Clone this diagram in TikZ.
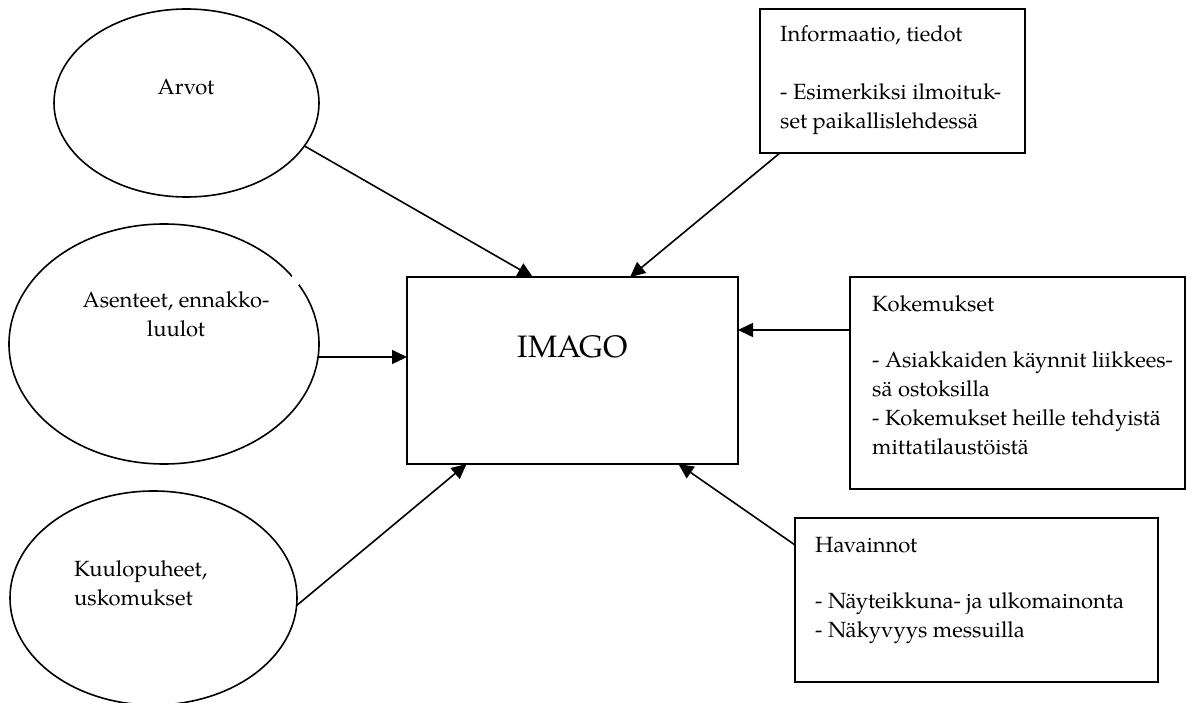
\documentclass[tikz,border=0pt]{standalone}
\usepackage{fontspec}
\setmainfont{texgyrepagella-regular.otf}
\usetikzlibrary{shapes.geometric,arrows.meta,calc}
\begin{document}
\begin{tikzpicture}[x=1pt,y=-1pt,
  shapeline/.style={draw=black,line width=1.6pt},
  oval/.style={shapeline,ellipse,inner sep=0pt,outer sep=0pt},
  frame/.style={shapeline,rectangle,inner sep=0pt,outer sep=0pt},
  lbl/.style={inner sep=0pt,font=\fontsize{22}{29}\selectfont},
  conn/.style={line width=1.6pt,-{Triangle[length=15pt,width=14pt]}}]
\useasboundingbox (0,0) rectangle (1192,703);
% shapes
\node[oval,minimum width=265pt,minimum height=188pt] (arvot) at (186.5,103) {};
\node[oval,minimum width=310pt,minimum height=240pt] (asenteet) at (164,344) {};
\node[oval,minimum width=287pt,minimum height=214pt] (kuulo) at (153.5,598) {};
\node[frame,minimum width=331pt,minimum height=187pt] (imago) at (572.5,370.5) {};
\node[frame,minimum width=265pt,minimum height=144pt] (info) at (892.5,81) {};
\node[frame,minimum width=335pt,minimum height=212pt] (koke) at (1017.5,383) {};
\node[frame,minimum width=363pt,minimum height=164pt] (hava) at (976.5,600) {};
% small break in the second ellipse outline
\fill[white] (292,271) rectangle (299,285);
% texts (anchored at the baseline of their last line)
\node[lbl,anchor=base] (tarvot) at (186,95) {Arvot};
\node[lbl,anchor=base,align=center] (tasenteet) at (176,337) {Asenteet, ennakko-\\luulot};
\node[lbl,anchor=base west,align=left] (tkuulo) at (74,605) {Kuulopuheet,\\uskomukset};
\node[inner sep=0pt,anchor=base,font=\fontsize{31}{36}\selectfont] (timago) at (572.5,358) {IMAGO};
\node[lbl,anchor=base west,align=left] (tinfo) at (780,129) {Informaatio, tiedot\\[29pt]- Esimerkiksi ilmoituk-\\set paikallislehdessä};
\node[lbl,anchor=base west,align=left] (tkoke) at (872,454) {Kokemukset\\[27pt]- Asiakkaiden käynnit liikkees-\\sä ostoksilla\\- Kokemukset heille tehdyistä\\mittatilaustöistä};
\node[lbl,anchor=base west,align=left] (thava) at (815,637) {Havainnot\\[27pt]- Näyteikkuna- ja ulkomainonta\\- Näkyvyys messuilla};
% connectors
\draw[conn] (arvot.-20.8) -- ($(imago.north west)!0.38!(imago.north east)$);
\draw[conn] ($(info.south west)!0.075!(info.south east)$) -- ($(imago.north west)!0.674!(imago.north east)$);
\coordinate (a2) at ($(asenteet.east)+(0,13)$);
\draw[conn] (a2) -- (a2 -| imago.west);
\coordinate (k2) at ($(koke.north west)+(0,53)$);
\draw[conn] (k2) -- (k2 -| imago.east);
\draw[conn] (kuulo.-3.5) -- ($(imago.south west)!0.18!(imago.south east)$);
\coordinate (h2) at ($(hava.north west)+(0,27)$);
\draw[conn] (h2) -- ($(imago.south west)!0.82!(imago.south east)$);
\end{tikzpicture}
\end{document}
